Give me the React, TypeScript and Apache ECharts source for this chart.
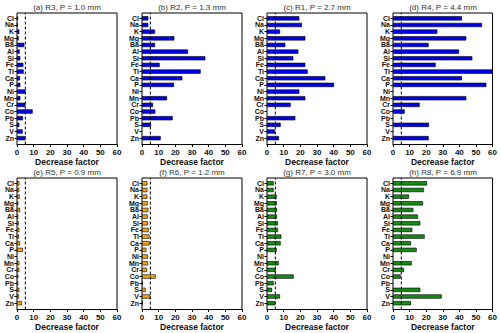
import React, { useEffect, useRef } from "react";
import * as echarts from "echarts";

const elements = ["Cl", "Na", "K", "Mg", "Ba", "Al", "Si", "Fe", "Ti", "Ca", "P", "Ni", "Mn", "Cr", "Co", "Pb", "S", "V", "Zn"];
const xTicksMin = 0;
const xTicksMax = 60;
const xTickStep = 10;
const threshold = 5;

const titles = [
  "(a) R3, P = 1.0 mm",
  "(b) R2, P = 1.3 mm",
  "(c) R1, P = 2.7 mm",
  "(d) R4, P = 4.4 mm",
  "(e) R5, P = 0.9 mm",
  "(f) R6, P = 1.2 mm",
  "(g) R7, P = 3.0 mm",
  "(h) R8, P = 6.9 mm",
];

const r3 = [0.6, 0.4, 1.4, 1.0, 4.4, 1.6, 2.0, 3.8, 4.0, 1.8, 2.0, 5.2, 2.0, 5.0, 9.4, 3.6, 1.4, 3.4, 5.0];
const r2 = [3.8, 3.8, 7.8, 19.4, 7.8, 27.6, 38.0, 10.6, 35.2, 24.2, 19.2, null, 15.0, 6.6, 8.0, 18.4, 5.4, null, 11.2];
const r1 = [19.4, 21.0, 7.8, 23.0, 11.0, 18.8, 15.8, 23.0, 24.4, 35.0, 40.2, 19.4, 23.0, 14.2, null, 17.0, 8.2, 4.8, 7.2];
const r4 = [41.4, 53.4, 26.6, 44.0, 21.4, 39.6, 47.6, 25.6, 59.6, 41.4, 56.0, null, 44.0, 16.0, 7.0, null, 21.6, null, 21.4];
const r5 = [1.4, 1.4, 1.6, 0.8, 1.8, 0.8, 1.0, 1.4, 1.2, 1.8, 3.6, null, 1.4, 1.4, 0.8, 0.8, 1.4, 1.2, 3.0];
const r6 = [3.2, 3.2, 3.2, 3.4, 3.8, 3.4, 3.6, 4.0, 4.4, 4.6, 2.6, 3.6, 3.6, 3.0, 8.2, 0.4, 2.2, 5.0, 0.4];
const r7 = [4.0, 4.0, 5.8, 5.8, 6.0, 6.0, 6.6, 6.6, 8.6, 8.2, 5.8, null, 7.0, 5.2, 16.0, 4.0, 3.0, 7.8, 4.8];
const r8 = [20.4, 18.6, 9.6, 18.0, 12.2, 15.0, 16.4, 11.6, 19.0, 10.8, 14.2, null, 11.2, 6.6, 4.6, null, 16.4, 29.2, 10.8];

const panelData = [r3, r2, r1, r4, r5, r6, r7, r8];
const blue = "#0000f0";
const orange = "#f5a21b";
const green = "#158a15";
const panelColors = [blue, blue, blue, blue, orange, orange, green, green];

const FONT = "'Liberation Sans', Arial, sans-serif";

export default function App() {
  const ref = useRef<HTMLDivElement>(null);
  useEffect(() => {
    if (!ref.current) return;
    const chart = echarts.init(ref.current, null, { renderer: "svg" });
    const lefts = [17, 142, 267, 393];
    const rows = [
      { top: 13, bottom: 144.5 },
      { top: 178, bottom: 309.5 },
    ];
    const grids: any[] = [];
    const xAxes: any[] = [];
    const yAxes: any[] = [];
    const series: any[] = [];
    const titleList: any[] = [];

    panelData.forEach((vals, i) => {
      const row = rows[Math.floor(i / 4)];
      const left = lefts[i % 4];
      const width = 100;
      const frameIdx = grids.length;
      grids.push({
        left,
        width,
        top: row.top,
        height: row.bottom - row.top,
        show: true,
        borderColor: "#000",
        borderWidth: 1,
        backgroundColor: "transparent",
      });
      xAxes.push({
        type: "value",
        gridIndex: frameIdx,
        min: xTicksMin,
        max: xTicksMax,
        interval: xTickStep,
        name: "Decrease factor",
        nameLocation: "middle",
        nameGap: 13,
        nameTextStyle: { fontFamily: FONT, fontSize: 8.5, fontWeight: "bold", color: "#111", lineHeight: 9 },
        axisLine: { show: true, lineStyle: { color: "#000", width: 1 } },
        axisTick: { show: true, inside: false, length: 2.5, lineStyle: { color: "#000" } },
        axisLabel: { fontFamily: FONT, fontSize: 8, fontWeight: "bold", color: "#111", margin: 4, lineHeight: 8 },
        splitLine: { show: false },
      });
      yAxes.push({
        type: "value",
        gridIndex: frameIdx,
        min: 0,
        max: 1,
        show: false,
      });
      series.push({
        type: "line",
        xAxisIndex: frameIdx,
        yAxisIndex: frameIdx,
        data: [
          [threshold, 0],
          [threshold, 1],
        ],
        symbol: "none",
        silent: true,
        lineStyle: { color: "#000", width: 1, type: [3, 2] },
        z: 5,
      });
      titleList.push({
        text: titles[i],
        left: left + width / 2,
        top: row.top - 10,
        padding: 0,
        textAlign: "center",
        textStyle: { fontFamily: FONT, fontSize: 8, fontWeight: "normal", color: "#333", lineHeight: 8 },
      });

      const barIdx = grids.length;
      grids.push({
        left,
        width,
        top: row.top + 2,
        height: row.bottom - row.top - 5,
      });
      xAxes.push({
        type: "value",
        gridIndex: barIdx,
        min: xTicksMin,
        max: xTicksMax,
        show: false,
      });
      yAxes.push({
        type: "category",
        gridIndex: barIdx,
        data: elements,
        inverse: true,
        axisLine: { show: false },
        axisTick: { show: true, alignWithLabel: true, length: 2.5, lineStyle: { color: "#000" } },
        axisLabel: {
          fontFamily: FONT,
          fontSize: 7,
          lineHeight: 6.5,
          fontWeight: "bold",
          color: "#111",
          margin: 3,
          interval: 0,
        },
        splitLine: { show: false },
      });
      series.push({
        type: "bar",
        xAxisIndex: barIdx,
        yAxisIndex: barIdx,
        data: vals,
        barWidth: "64%",
        itemStyle: { color: panelColors[i], borderColor: "#000", borderWidth: 0.6 },
        z: 3,
      });
    });

    chart.setOption({
      animation: false,
      backgroundColor: "#fff",
      title: titleList,
      grid: grids,
      xAxis: xAxes,
      yAxis: yAxes,
      series,
    });
    return () => chart.dispose();
  }, []);
  return <div ref={ref} style={{ position: "fixed", left: 0, top: 0, width: 500, height: 333 }} />;
}
